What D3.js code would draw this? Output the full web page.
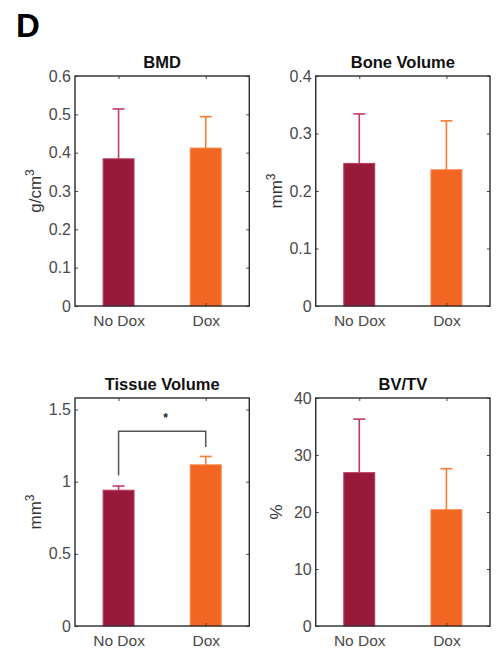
<!DOCTYPE html>
<html>
<head>
<meta charset="utf-8">
<script src="https://cdn.jsdelivr.net/npm/d3@7"></script>
<style>
  html, body { margin: 0; padding: 0; background: #fff; }
  svg { display: block; font-family: "Liberation Sans", Arial, Helvetica, sans-serif; }
</style>
</head>
<body>
<svg id="chart" width="497" height="652"></svg>
<script>
// ---- data ----
const categories = ["No Dox", "Dox"];
const titles = ["BMD", "Bone Volume", "Tissue Volume", "BV/TV"];
const units = [["g/cm", "3"], ["mm", "3"], ["mm", "3"], ["%", ""]];
const bmdMean = [0.384, 0.412];
const bmdErr = [0.130, 0.082];
const boneMean = [0.248, 0.237];
const boneErr = [0.086, 0.085];
const tissueMean = [0.941, 1.117];
const tissueErr = [0.029, 0.058];
const bvtvMean = [26.9, 20.4];
const bvtvErr = [9.4, 7.2];
const yMax = [0.6, 0.4, 1.58, 40];
const bmdTicks = [0, 0.1, 0.2, 0.3, 0.4, 0.5, 0.6];
const boneTicks = [0, 0.1, 0.2, 0.3, 0.4];
const tissueTicks = [0, 0.5, 1, 1.5];
const bvtvTicks = [0, 10, 20, 30, 40];
// significance bracket in Tissue Volume: [bar height, left foot, right foot, star level]
const sigBracket = [1.35, 1.043, 1.24, 1.47];
const sigLabel = "*";

const means = [bmdMean, boneMean, tissueMean, bvtvMean];
const errs = [bmdErr, boneErr, tissueErr, bvtvErr];
const ticks = [bmdTicks, boneTicks, tissueTicks, bvtvTicks];

// ---- style / layout ----
const fillColors = ["#981a3b", "#f26522"];
const edgeColors = ["#b83a5e", "#f5894a"];
const errColors = ["#c23c62", "#f57d32"];
const lefts = [75, 315.7];
const rights = [249.3, 490];
const tops = [76, 398];
const bottoms = [306, 626];
const barW = 0.355; // in x-data units
const capHalf = 6;
const font = '"Liberation Sans", Arial, Helvetica, sans-serif';

const svg = d3.select("#chart");

svg.append("text")
  .attr("x", 16).attr("y", 37)
  .attr("font-size", 33).attr("font-weight", "bold")
  .attr("fill", "#000")
  .text("D");

titles.forEach((title, i) => {
  const col = i % 2, row = Math.floor(i / 2);
  const x0 = lefts[col], x1 = rights[col], y0 = tops[row], y1 = bottoms[row];
  const x = d3.scaleLinear().domain([0.5, 2.5]).range([x0, x1]);
  const y = d3.scaleLinear().domain([0, yMax[i]]).range([y1, y0]);
  const g = svg.append("g");

  // bars
  categories.forEach((c, k) => {
    const xc = x(k + 1);
    const bw = x(1 + barW / 2) - x(1 - barW / 2);
    g.append("rect")
      .attr("x", xc - bw / 2)
      .attr("y", y(means[i][k]))
      .attr("width", bw)
      .attr("height", y(0) - y(means[i][k]))
      .attr("fill", fillColors[k])
      .attr("stroke", edgeColors[k])
      .attr("stroke-width", 1);
    // error bar (upper)
    const yt = y(means[i][k] + errs[i][k]);
    g.append("line")
      .attr("x1", xc).attr("x2", xc)
      .attr("y1", y(means[i][k])).attr("y2", yt)
      .attr("stroke", errColors[k]).attr("stroke-width", 1.6);
    g.append("line")
      .attr("x1", xc - capHalf).attr("x2", xc + capHalf)
      .attr("y1", yt).attr("y2", yt)
      .attr("stroke", errColors[k]).attr("stroke-width", 1.6);
  });

  // axes with inward ticks
  const tf = v => String(+v.toFixed(3));
  const yl = g.append("g").attr("transform", `translate(${x0},0)`)
    .call(d3.axisLeft(y).tickValues(ticks[i]).tickSize(-3).tickSizeOuter(0).tickPadding(4).tickFormat(tf));
  const yr = g.append("g").attr("transform", `translate(${x1},0)`)
    .call(d3.axisRight(y).tickValues(ticks[i]).tickSize(-3).tickSizeOuter(0).tickFormat(""));
  const xb = g.append("g").attr("transform", `translate(0,${y1})`)
    .call(d3.axisBottom(x).tickValues([1, 2]).tickSize(-3).tickSizeOuter(0).tickPadding(9)
      .tickFormat(d => categories[d - 1]));
  const xt = g.append("g").attr("transform", `translate(0,${y0})`)
    .call(d3.axisTop(x).tickValues([1, 2]).tickSize(-3).tickSizeOuter(0).tickFormat(""));
  [yl, yr, xb, xt].forEach(a => {
    a.select(".domain").remove();
    a.selectAll(".tick line").attr("stroke", "#444").attr("stroke-width", 1);
    a.selectAll("text").attr("font-family", font).attr("fill", "#4a4a4a");
  });
  yl.selectAll("text").attr("font-size", 16);
  xb.selectAll("text").attr("font-size", 15.5);

  // box
  g.append("rect")
    .attr("x", x0).attr("y", y0)
    .attr("width", x1 - x0).attr("height", y1 - y0)
    .attr("fill", "none").attr("stroke", "#2b2b2b").attr("stroke-width", 1.4);

  // title
  g.append("text")
    .attr("x", (x0 + x1) / 2).attr("y", y0 - 8)
    .attr("text-anchor", "middle")
    .attr("font-size", 16.5).attr("font-weight", "bold")
    .attr("fill", "#111")
    .text(title);

  // y label
  const lab = g.append("text")
    .attr("transform", `translate(${x0 - 34},${(y0 + y1) / 2}) rotate(-90)`)
    .attr("text-anchor", "middle")
    .attr("font-size", 17).attr("fill", "#333");
  lab.append("tspan").text(units[i][0]);
  if (units[i][1]) lab.append("tspan").attr("font-size", 12).attr("dy", -7).text(units[i][1]);

  // significance bracket
  if (i === 2) {
    const pts = [[1, sigBracket[1]], [1, sigBracket[0]], [2, sigBracket[0]], [2, sigBracket[2]]];
    g.append("path")
      .attr("d", d3.line().x(d => x(d[0])).y(d => y(d[1]))(pts))
      .attr("fill", "none").attr("stroke", "#555").attr("stroke-width", 1.5);
    g.append("text")
      .attr("x", x(1.54)).attr("y", y(sigBracket[3]) + 8)
      .attr("text-anchor", "middle")
      .attr("font-size", 12).attr("font-weight", "bold").attr("fill", "#222")
      .text(sigLabel);
  }
});
</script>
</body>
</html>
